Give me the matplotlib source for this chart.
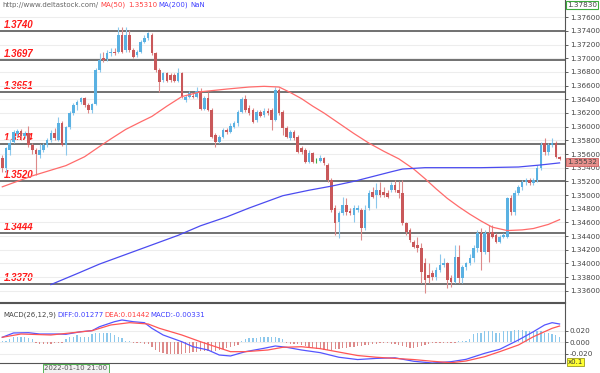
import numpy as np
import matplotlib
matplotlib.use("Agg")
import matplotlib.pyplot as plt

# ---------------- data (hourly candles) ----------------
opens = [1.3554,1.3540,1.3566,1.3578,1.3589,1.3594,1.3586,1.3591,1.3573,1.3566,
         1.3559,1.3566,1.3573,1.3581,1.3591,1.3581,1.3605,1.3573,1.3600,1.3620,
         1.3632,1.3636,1.3642,1.3632,1.3625,1.3633,1.3683,1.3701,1.3699,1.3708,
         1.3709,1.3709,1.3734,1.3712,1.3734,1.3712,1.3705,1.3709,1.3724,1.3730,
         1.3734,1.3708,1.3683,1.3668,1.3679,1.3676,1.3676,1.3667,1.3679,1.3639,
         1.3644,1.3645,1.3644,1.3652,1.3626,1.3642,1.3625,1.3588,1.3578,1.3585,
         1.3595,1.3592,1.3600,1.3605,1.3622,1.3641,1.3627,1.3625,1.3610,1.3622,
         1.3617,1.3623,1.3625,1.3610,1.3654,1.3622,1.3598,1.3584,1.3592,1.3585,
         1.3569,1.3566,1.3548,1.3562,1.3551,1.3550,1.3554,1.3544,1.3522,1.3481,
         1.3461,1.3474,1.3486,1.3477,1.3471,1.3478,1.3478,1.3452,1.3481,1.3505,
         1.3500,1.3508,1.3505,1.3503,1.3508,1.3515,1.3508,1.3503,1.3459,1.3449,
         1.3432,1.3427,1.3423,1.3401,1.3383,1.3386,1.3380,1.3391,1.3398,1.3401,
         1.3379,1.3373,1.3410,1.3379,1.3394,1.3401,1.3408,1.3423,1.3445,1.3417,
         1.3445,1.3446,1.3442,1.3432,1.3439,1.3439,1.3496,1.3475,1.3503,1.3512,
         1.3519,1.3522,1.3518,1.3522,1.3540,1.3576,1.3563,1.3573,1.3576,1.3556]
closes = [1.3540,1.3569,1.3576,1.3592,1.3594,1.3586,1.3591,1.3573,1.3566,1.3560,
          1.3566,1.3573,1.3581,1.3591,1.3584,1.3605,1.3573,1.3600,1.3620,1.3632,
          1.3636,1.3642,1.3632,1.3625,1.3633,1.3683,1.3698,1.3698,1.3708,1.3709,
          1.3708,1.3734,1.3709,1.3734,1.3712,1.3702,1.3709,1.3724,1.3730,1.3737,
          1.3708,1.3683,1.3665,1.3679,1.3667,1.3668,1.3667,1.3679,1.3644,1.3644,
          1.3649,1.3644,1.3652,1.3626,1.3642,1.3625,1.3585,1.3578,1.3585,1.3595,
          1.3592,1.3601,1.3605,1.3622,1.3641,1.3625,1.3620,1.3607,1.3622,1.3616,
          1.3623,1.3620,1.3610,1.3654,1.3620,1.3598,1.3585,1.3592,1.3584,1.3563,
          1.3563,1.3548,1.3562,1.3548,1.3551,1.3554,1.3547,1.3522,1.3478,1.3459,
          1.3474,1.3486,1.3475,1.3474,1.3481,1.3481,1.3452,1.3478,1.3503,1.3497,
          1.3508,1.3500,1.3500,1.3497,1.3515,1.3508,1.3503,1.3459,1.3446,1.3434,
          1.3424,1.3423,1.3388,1.3376,1.3379,1.3380,1.3391,1.3398,1.3401,1.3376,
          1.3373,1.3410,1.3379,1.3394,1.3401,1.3408,1.3423,1.3445,1.3417,1.3445,
          1.3416,1.3439,1.3432,1.3439,1.3442,1.3496,1.3475,1.3503,1.3512,1.3519,
          1.3522,1.3518,1.3522,1.3540,1.3573,1.3563,1.3573,1.3576,1.3556,1.35532]
highs = [1.3559,1.3570,1.3582,1.3595,1.3597,1.3597,1.3594,1.3601,1.3576,1.3569,
         1.3575,1.3576,1.3584,1.3595,1.3598,1.3614,1.3608,1.3601,1.3623,1.3635,
         1.3639,1.3644,1.3644,1.3635,1.3635,1.3686,1.3708,1.3709,1.3712,1.3715,
         1.3715,1.3746,1.3746,1.3746,1.3741,1.3715,1.3712,1.3727,1.3734,1.3739,
         1.3737,1.3709,1.3686,1.3680,1.3680,1.3679,1.3679,1.3686,1.3680,1.3646,
         1.3652,1.3649,1.3658,1.3657,1.3645,1.3651,1.3627,1.3591,1.3588,1.3598,
         1.3598,1.3605,1.3608,1.3625,1.3644,1.3646,1.3632,1.3627,1.3625,1.3625,
         1.3627,1.3627,1.3627,1.3658,1.3657,1.3625,1.3601,1.3595,1.3595,1.3588,
         1.3572,1.3569,1.3566,1.3563,1.3554,1.3559,1.3556,1.3547,1.3525,1.3486,
         1.3477,1.3497,1.3496,1.3481,1.3486,1.3486,1.3481,1.3486,1.3508,1.3512,
         1.3518,1.3519,1.3512,1.3508,1.3519,1.3522,1.3521,1.3522,1.3461,1.3452,
         1.3434,1.3439,1.3430,1.3408,1.3401,1.3391,1.3394,1.3413,1.3408,1.3402,
         1.3383,1.3427,1.3427,1.3398,1.3402,1.3413,1.3427,1.3449,1.3452,1.3449,
         1.3456,1.3456,1.3445,1.3442,1.3445,1.3497,1.3500,1.3508,1.3515,1.3522,
         1.3525,1.3525,1.3525,1.3544,1.3578,1.3584,1.3576,1.3584,1.3579,1.3557]
lows = [1.3534,1.3534,1.3559,1.3576,1.3586,1.3581,1.3584,1.3570,1.3560,1.3529,
        1.3554,1.3563,1.3570,1.3578,1.3581,1.3579,1.3572,1.3559,1.3597,1.3617,
        1.3625,1.3633,1.3629,1.3620,1.3620,1.3632,1.3680,1.3695,1.3696,1.3703,
        1.3705,1.3708,1.3708,1.3709,1.3709,1.3701,1.3702,1.3708,1.3722,1.3727,
        1.3705,1.3680,1.3651,1.3665,1.3665,1.3665,1.3665,1.3665,1.3642,1.3636,
        1.3642,1.3642,1.3642,1.3625,1.3625,1.3623,1.3584,1.3570,1.3576,1.3584,
        1.3589,1.3591,1.3598,1.3601,1.3620,1.3622,1.3617,1.3605,1.3607,1.3614,
        1.3614,1.3617,1.3595,1.3608,1.3617,1.3588,1.3584,1.3581,1.3581,1.3562,
        1.3560,1.3547,1.3547,1.3547,1.3547,1.3548,1.3544,1.3519,1.3475,1.3442,
        1.3437,1.3471,1.3471,1.3471,1.3461,1.3475,1.3434,1.3449,1.3478,1.3496,
        1.3481,1.3497,1.3497,1.3496,1.3505,1.3505,1.3496,1.3456,1.3442,1.3432,
        1.3423,1.3417,1.3372,1.3356,1.3372,1.3376,1.3376,1.3388,1.3394,1.3364,
        1.3366,1.3372,1.3372,1.3372,1.3391,1.3398,1.3402,1.3417,1.3391,1.3413,
        1.3402,1.3437,1.3430,1.3430,1.3437,1.3437,1.3471,1.3471,1.3500,1.3508,
        1.3515,1.3515,1.3515,1.3519,1.3537,1.3559,1.3559,1.3570,1.3554,1.3551]

ma50_idx = [0, 8, 17, 22, 26, 29, 33, 37, 40, 44, 48, 53, 60, 66, 70, 74, 77, 80, 83, 86, 90, 94, 98, 102, 106,
            110, 113, 116, 119, 122, 125, 128, 131, 135, 139, 142, 146, 149]
ma50_val = [1.3512, 1.3528, 1.3543, 1.3556, 1.3571, 1.3582, 1.3596, 1.3607, 1.3615, 1.3630, 1.3644, 1.3651,
            1.3655, 1.3658, 1.3659, 1.3658, 1.3650, 1.3641, 1.3630, 1.3620, 1.3605, 1.3590, 1.3576, 1.3564,
            1.3553, 1.3538, 1.3524, 1.3509, 1.3495, 1.3483, 1.3472, 1.3462, 1.3453, 1.3448, 1.3449, 1.3451,
            1.3457, 1.3464]
ma200_idx = [13, 20, 26, 33, 40, 47, 53, 60, 66, 75, 82, 88, 94, 99, 104, 107, 113, 120, 128, 138, 144, 149]
ma200_val = [1.3369, 1.3385, 1.3399, 1.3413, 1.3427, 1.3441, 1.3455, 1.3468, 1.3481, 1.3499, 1.3507, 1.3513,
             1.3520, 1.3527, 1.3534, 1.3538, 1.3540, 1.3540, 1.3540, 1.3541, 1.3544, 1.3547]

levels = [1.3740, 1.3697, 1.3651, 1.3574, 1.3520, 1.3444, 1.3370]

diff_idx = [0, 3, 7, 10, 15, 17, 21, 24, 26, 30, 32, 35, 38, 40, 43, 48, 51, 55, 58, 61, 65, 70, 73, 76, 80,
            85, 90, 95, 100, 105, 110, 115, 120, 124, 129, 133, 138, 142, 145, 147, 149]
diff_val = [0.0087, 0.0162, 0.0167, 0.0144, 0.0144, 0.0139, 0.0184, 0.0202, 0.0271, 0.0358, 0.0388, 0.0358, 0.0341,
            0.0243, 0.0127, 0.0010, -0.0077, -0.0134, -0.0221, -0.0238, -0.0163, -0.0104, -0.0064, -0.0087, -0.0134,
            -0.0180, -0.0260, -0.0300, -0.0280, -0.0270, -0.0330, -0.0360, -0.0337, -0.0296, -0.0191, -0.0122,
            0.0040, 0.0184, 0.0301, 0.0341, 0.0318]
dea_idx = [0, 5, 13, 24, 29, 34, 39, 42, 48, 53, 57, 61, 65, 71, 75, 80, 85, 90, 95, 100, 105, 110, 115, 120,
           124, 129, 133, 138, 142, 147, 149]
dea_val = [0.0087, 0.0144, 0.0127, 0.0202, 0.0301, 0.0341, 0.0318, 0.0243, 0.0127, 0.0010, -0.0077, -0.0163,
           -0.0163, -0.0134, -0.0087, -0.0077, -0.0110, -0.0170, -0.0230, -0.0260, -0.0280, -0.0300, -0.0330,
           -0.0355, -0.0325, -0.0250, -0.0163, -0.0047, 0.0097, 0.0243, 0.0283]
macd_hist = [0.002, 0.003, 0.005, 0.009, 0.010, 0.010, 0.009, 0.007, 0.005, -0.002,
             -0.003, -0.003, -0.003, -0.003, -0.002, -0.002, -0.002, 0.005, 0.009, 0.010,
             0.012, 0.010, 0.009, 0.009, 0.014, 0.016, 0.017, 0.017, 0.017, 0.016, 0.012,
             0.010, 0.007, 0.003, 0.002, -0.002, -0.002, -0.002, -0.003, -0.003,
             -0.009, -0.014, -0.017, -0.019, -0.021, -0.021, -0.021, -0.021, -0.021, -0.019,
             -0.019, -0.017, -0.017, -0.016, -0.016, -0.016, -0.017, -0.016, -0.014, -0.012,
             -0.010, -0.009, -0.007, -0.005, 0.003, 0.005, 0.007, 0.007, 0.007, 0.009,
             0.009, 0.010, 0.009, 0.009, 0.007, 0.005, -0.002, -0.003, -0.003, -0.003,
             -0.005, -0.007, -0.009, -0.010, -0.012, -0.012, -0.014, -0.014, -0.014, -0.012,
             -0.012, -0.010, -0.010, -0.009, -0.009, -0.007, -0.007, -0.005, -0.005, -0.003,
             -0.003, -0.002, -0.002, -0.002, -0.003, -0.003, -0.005, -0.007, -0.009, -0.010,
             -0.010, -0.009, -0.007, -0.005, -0.003, -0.002, -0.002, -0.002, -0.002, -0.002,
             -0.002, -0.002, 0.002, 0.003, 0.003, 0.005, 0.014, 0.016, 0.017, 0.019,
             0.019, 0.019, 0.017, 0.017, 0.019, 0.019, 0.019, 0.021, 0.021, 0.021,
             0.019, 0.019, 0.019, 0.019, 0.019, 0.017, 0.017, 0.014, 0.012, 0.010]

yticks = [1.336 + 0.002 * k for k in range(21)]

# ---------------- drawing ----------------
W, H = 600, 373
fig = plt.figure(figsize=(6.0, 3.73), dpi=100)
fig.patch.set_facecolor("white")

def fx(x):
    return x / W

def fy(y):
    return 1 - y / H

XR = 565
ax = fig.add_axes([0, fy(302), fx(XR), (302) / H])
ax2 = fig.add_axes([0, fy(363), fx(XR), (363 - 303) / H])

n = len(opens)
xmin, xmax = -0.615, 150.45
BLUE = "#5ab1e2"
RED = "#c9585a"
BLUE_W = "#8cc8ec"
RED_W = "#dd8a8a"

ax.set_xlim(xmin, xmax)
ax.set_ylim(1.33435, 1.37853)
for lv in levels:
    ax.axhline(lv, color="#666666", lw=1.3, zorder=2)
    ax.text(0.3, lv + 0.00016, f"{lv:.4f}", color="#ff1a1a", fontsize=7.0,
            fontweight="bold", fontstyle="italic", family="Liberation Sans",
            va="bottom", ha="left", zorder=1)

for i in range(n):
    o, c, h, l = opens[i], closes[i], highs[i], lows[i]
    if c > o:
        col, wcol = BLUE, BLUE_W
    elif c < o:
        col, wcol = RED, RED_W
    else:
        col, wcol = "#3cb043", "#3cb043"
    ax.plot([i, i], [l, h], color=wcol, lw=0.8, zorder=3, solid_capstyle="butt")
    lo, hi = min(o, c), max(o, c)
    ax.bar(i, max(hi - lo, 0.00004), bottom=lo, width=0.7, color=col, zorder=4, linewidth=0)

ax.plot(ma50_idx, ma50_val, color="#ff6b6b", lw=0.9, zorder=5)
ax.plot(ma200_idx, ma200_val, color="#4b4bf0", lw=0.9, zorder=5)

ax.yaxis.tick_right()
ax.set_yticks(yticks)
ax.set_yticklabels([f"{v:.5f}" for v in yticks])
ax.tick_params(axis="y", labelsize=5.2, colors="#444444", length=2.5, width=0.6, pad=1)
ax.tick_params(axis="x", bottom=False, labelbottom=False)
ax.grid(axis="y", color="#ededed", lw=0.8, zorder=0)
for s in ["left", "top"]:
    ax.spines[s].set_visible(False)
ax.spines["right"].set_color("#555555")
ax.spines["bottom"].set_color("#555555")

# header text
fig.text(fx(2), fy(5), "http://www.deltastock.com/", fontsize=5, color="#666666", va="center")
fig.text(fx(100), fy(5), "MA(50)", fontsize=5, color="#ff4040", va="center")
fig.text(fx(128), fy(5), "1.35310", fontsize=5, color="#ff4040", va="center")
fig.text(fx(158), fy(5), "MA(200)", fontsize=5, color="#4040ff", va="center")
fig.text(fx(190), fy(5), "NaN", fontsize=5, color="#4040ff", va="center")

# price boxes on the axis
fig.text(fx(567), fy(5), "1.37830", fontsize=5.2, color="#444444", va="center",
         bbox=dict(boxstyle="square,pad=0.15", fc="white", ec="#3caa3c", lw=0.8))
fig.text(fx(567), fy(162), "1.35532", fontsize=5.2, color="#444444", va="center",
         bbox=dict(boxstyle="square,pad=0.15", fc="#e6908c", ec="#d06060", lw=0.6))

# ---------------- MACD panel ----------------
ax2.set_xlim(xmin, xmax)
ax2.set_ylim(-0.036, 0.0683)
hcols = [BLUE_W if v >= 0 else RED_W for v in macd_hist]
ax2.bar(range(n), macd_hist, width=0.35, color=hcols, zorder=2, linewidth=0)
ax2.plot(diff_idx, diff_val, color="#5555ff", lw=0.9, zorder=3)
ax2.plot(dea_idx, dea_val, color="#ff5555", lw=0.9, zorder=3)
ax2.yaxis.tick_right()
ax2.set_yticks([0.02, 0.0, -0.02])
ax2.set_yticklabels(["0.020", "0.000", "-0.020"])
ax2.tick_params(axis="y", labelsize=5.2, colors="#444444", length=2.5, width=0.6, pad=1)
ax2.tick_params(axis="x", bottom=False, labelbottom=False)
ax2.grid(axis="y", color="#ededed", lw=0.8, zorder=0)
ax2.spines["left"].set_visible(False)
for s in ["right", "top", "bottom"]:
    ax2.spines[s].set_color("#555555")

fig.text(fx(3), fy(315), "MACD(26,12,9)", fontsize=5, color="#444444", va="center")
fig.text(fx(57), fy(315), "DIFF:0.01277", fontsize=5, color="#4040ff", va="center")
fig.text(fx(104), fy(315), "DEA:0.01442", fontsize=5, color="#ff4040", va="center")
fig.text(fx(150), fy(315), "MACD:-0.00331", fontsize=5, color="#4040ff", va="center")

fig.text(fx(568), fy(362), "x0.1", fontsize=5, color="#333333", va="center",
         bbox=dict(boxstyle="square,pad=0.1", fc="#ffff33", ec="#888800", lw=0.5))
fig.text(fx(44), fy(368.5), "2022-01-10 21:00", fontsize=5, color="#555555", va="center",
         bbox=dict(boxstyle="square,pad=0.2", fc="#f2f2f2", ec="#3caa3c", lw=0.6))

fig.savefig("out.png", dpi=100)
